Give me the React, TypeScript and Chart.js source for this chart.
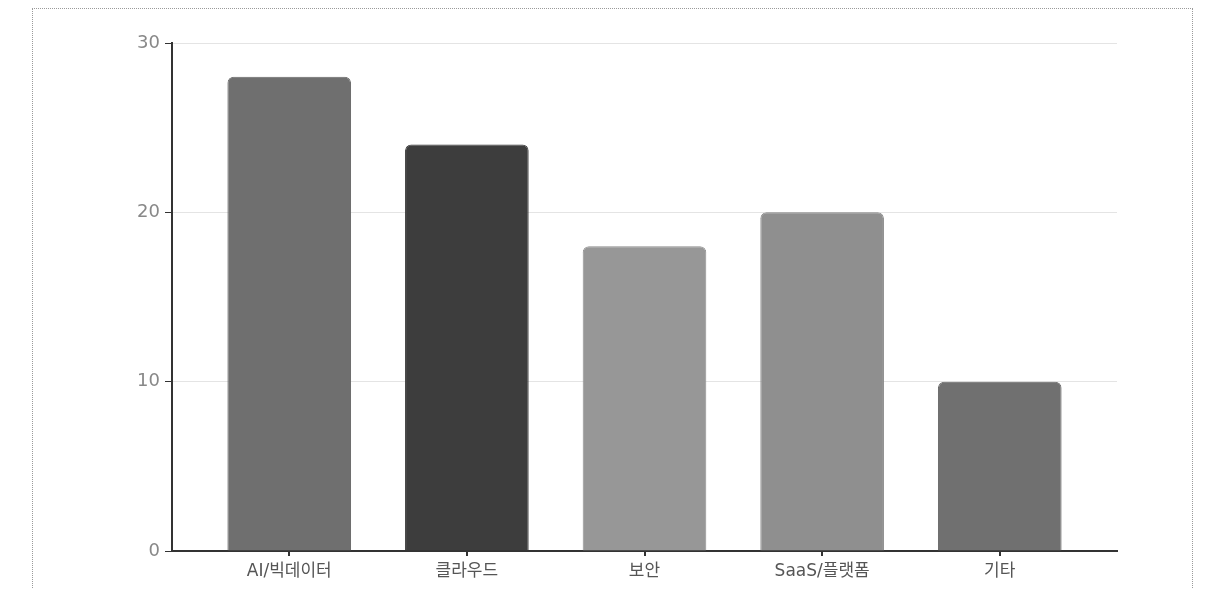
import React, { useEffect, useRef } from "react";
import { Chart, registerables } from "chart.js";

Chart.register(...registerables);

const categories = ["AI/빅데이터", "클라우드", "보안", "SaaS/플랫폼", "기타"];
const values = [28, 24, 18, 20, 10];
const barColors = ["#6f6f6f", "#3d3d3d", "#979797", "#8f8f8f", "#707070"];
const barBorders = ["#666666", "#363636", "#8e8e8e", "#878787", "#676767"];
const yTicks = [0, 10, 20, 30];

export default function App() {
  const ref = useRef<HTMLCanvasElement | null>(null);

  useEffect(() => {
    if (!ref.current) return;
    const chart = new Chart(ref.current, {
      type: "bar",
      data: {
        labels: categories,
        datasets: [
          {
            data: values,
            backgroundColor: barColors,
            borderColor: barBorders,
            borderWidth: 1,
            borderSkipped: "bottom",
            borderRadius: { topLeft: 6, topRight: 6, bottomLeft: 0, bottomRight: 0 },
            barPercentage: 0.87,
            categoryPercentage: 0.8,
          },
        ],
      },
      options: {
        responsive: false,
        animation: false,
        layout: { padding: { left: 79, right: 42, top: 34, bottom: 0 } },
        plugins: { legend: { display: false }, tooltip: { enabled: false } },
        scales: {
          x: {
            afterFit: (s: any) => {
              s.height = 38;
            },
            afterBuildTicks: (s: any) => {
              // outer padding of the band scale
              const pad = 0.16;
              s._startValue -= pad;
              s._valueRange += 2 * pad;
            },
            grid: {
              display: true,
              drawOnChartArea: false,
              offset: false,
              tickColor: "#333333",
              tickLength: 5,
              lineWidth: 2,
            },
            border: { display: true, color: "#333333", width: 2 },
            ticks: {
              color: "#555555",
              padding: 5,
              font: { family: "'DejaVu Sans', 'Noto Sans CJK KR', sans-serif", size: 17 },
            },
          },
          y: {
            min: 0,
            max: 30,
            afterFit: (s: any) => {
              s.width = 60;
            },
            afterBuildTicks: (s: any) => {
              s.ticks = yTicks.map((v) => ({ value: v }));
            },
            grid: {
              color: "#e4e4e4",
              tickColor: "#333333",
              tickLength: 7,
              lineWidth: 1,
            },
            border: { display: true, color: "#333333", width: 2 },
            ticks: {
              color: "#888888",
              padding: 5,
              font: { family: "'DejaVu Sans', sans-serif", size: 18 },
            },
          },
        },
      },
    });
    return () => chart.destroy();
  }, []);

  return (
    <div
      style={{
        marginLeft: 24,
        width: 1161,
        height: 620,
        border: "1px dotted #9a9a9a",
        boxSizing: "border-box",
        position: "relative",
      }}
    >
      <canvas
        ref={ref}
        width={1126}
        height={580}
        style={{ position: "absolute", left: 0, top: 0, width: 1126, height: 580 }}
      />
    </div>
  );
}
